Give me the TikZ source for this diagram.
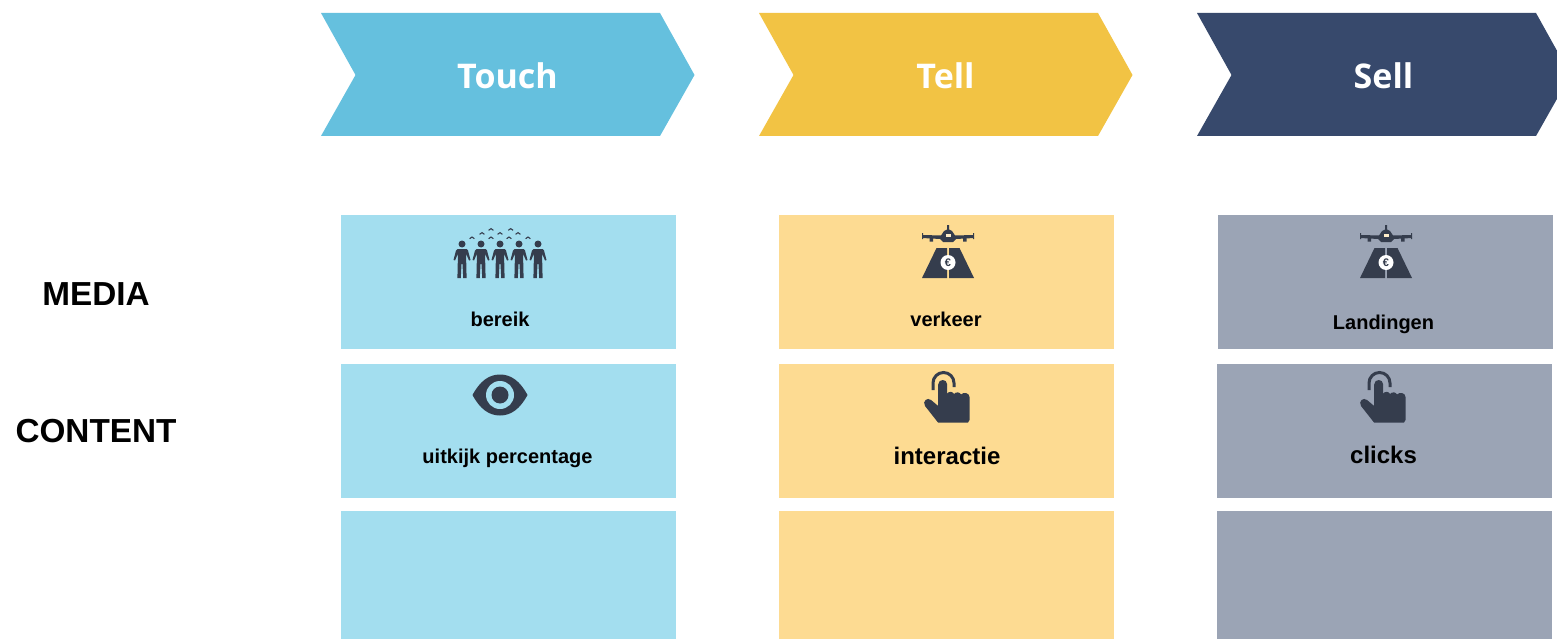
\documentclass[tikz,border=0pt]{standalone}
\usepackage{fontspec}
\setmainfont{Liberation Sans}
\newfontfamily\headfont{Open Sans}
\definecolor{cblue}{HTML}{65C0DE}
\definecolor{cyellow}{HTML}{F2C344}
\definecolor{cnavy}{HTML}{37496C}
\definecolor{lblue}{HTML}{A3DEEF}
\definecolor{lyellow}{HTML}{FDDB92}
\definecolor{lnavy}{HTML}{9BA4B5}
\definecolor{icon}{HTML}{353D4D}
\tikzset{
  panel/.style={inner sep=0pt,outer sep=0pt,anchor=north west},
  headtext/.style={font=\headfont\bfseries\fontsize{34}{38}\selectfont,text=white,inner sep=0pt},
  celltext/.style={font=\bfseries\fontsize{#1}{#1}\selectfont,text=black,inner sep=0pt},
  sidetext/.style={font=\bfseries\fontsize{33.3}{36}\selectfont,text=black,inner sep=0pt},
  person/.pic={
    \fill[icon] (0,-17) circle (3.5);
    \fill[icon] (-4.5,-12) -- (4.5,-12) -- (6,-10.5) -- (8.5,-1) -- (7,-.5) -- (4.2,-7) -- (4.2,0) -- (4.6,17) -- (1.2,17) -- (.5,3) -- (-.5,3) -- (-1.2,17) -- (-4.6,17) -- (-4.2,0) -- (-4.2,-7) -- (-7,-.5) -- (-8.5,-1) -- (-6,-10.5) -- cycle;
  },
  bird/.pic={\draw[icon,line width=1.1pt] (-2.4,1) .. controls (-1.5,-1.2) and (1.5,-1.2) .. (2.4,1);},
  crowdicon/.pic={
    \foreach \x in {-38,-19,0,19,38} \pic at (\x,0) {person};
    \foreach \x/\y in {-28/-23.3,-18/-27.7,-9/-31.7,-9/-23.3,0/-27.7,9/-23.3,10.7/-31.7,18/-27.7,28/-23.3} \pic at (\x,\y) {bird};
  },
  runwayicon/.pic={
    \fill[icon] (-25,-12) -- (-7,-11.5) -- (-4,-16) -- (-1,-17.5) -- (-1,-22) -- (1,-22) -- (1,-17.5) -- (4,-16) -- (7,-11.5) -- (25,-12) -- (26,-9) -- (8,-8) -- (5,-5) -- (-5,-5) -- (-8,-8) -- (-26,-9) -- cycle;
    \fill[icon] (-26,-14) rectangle (-25,-8) (25,-14) rectangle (26,-8);
    \fill[icon] (-18.5,-9) rectangle (-15,-5.5) (15,-9) rectangle (18.5,-5.5);
    \fill[lyellow!50!white] (-2.5,-13) rectangle (2.5,-10.5);
    \fill[icon] (-11.5,1) -- (-1,1) -- (-1,31) -- (-26,31) -- cycle;
    \fill[icon] (1,1) -- (11.5,1) -- (26,31) -- (1,31) -- cycle;
    \fill[white] (0,15.5) circle (7.5);
    \node[inner sep=0pt,text=icon,font=\bfseries\fontsize{11}{11}\selectfont] at (0,15.5) {€};
  },
  handicon/.pic={
    \draw[icon,line width=3pt] (-10,10) -- (-10,3) arc[start angle=180,end angle=360,radius=10.5] -- (11,7);
    \fill[icon] (-4.8,4.5) .. controls (-4.8,-1.5) and (4.2,-1.5) .. (4.2,4.5) -- (4.2,13.5) .. controls (6,11) and (10,11.5) .. (11,14)
      .. controls (13,11.5) and (17,12) .. (18,14.5) .. controls (20,12) and (26.5,12.5) .. (26.5,17) -- (26.5,40) -- (25,42.5) -- (-5,42.5)
      -- (-18,26) .. controls (-21,21) and (-15.5,17) .. (-12,20) -- (-4.8,26) -- cycle;
  },
  eyeicon/.pic={
    \fill[icon] (-27.5,0) .. controls (-20,-14) and (-11,-20.5) .. (0,-20.5) .. controls (11,-20.5) and (20,-14) .. (27.5,0) .. controls (20,14) and (11,20.5) .. (0,20.5) .. controls (-11,20.5) and (-20,14) .. (-27.5,0) -- cycle;
    \fill[lblue] (0,0) circle (14);
    \fill[icon] (0,0) circle (8.5);
  },
}
\begin{document}
\begin{tikzpicture}[x=1pt,y=-1pt]
\useasboundingbox (0,0) rectangle (1557,639);
\clip (0,0) rectangle (1557,639);
\fill[white] (0,0) rectangle (1557,639);
% chevrons
\fill[cblue] (321,13) -- (660,13) -- (694.5,75) -- (660,136) -- (321,136) -- (355.5,75) -- cycle;
\fill[cyellow] (759,13) -- (1098,13) -- (1132.5,75) -- (1098,136) -- (759,136) -- (793.5,75) -- cycle;
\fill[cnavy] (1197,13) -- (1536,13) -- (1570.5,75) -- (1536,136) -- (1197,136) -- (1231.5,75) -- cycle;
\node[headtext] (touch) at (507.5,75.5) {Touch};
\node[headtext] (tell) at (945.5,75.5) {Tell};
\node[headtext] (sell) at (1383.5,75.5) {Sell};
% panels
\node[panel,fill=lblue,minimum width=335pt,minimum height=134pt] (a1) at (341,215) {};
\node[panel,fill=lblue,minimum width=335pt,minimum height=134pt] (a2) at (341,363.5) {};
\node[panel,fill=lblue,minimum width=335pt,minimum height=130pt] (a3) at (341,510.5) {};
\node[panel,fill=lyellow,minimum width=335pt,minimum height=134pt] (b1) at (779,215) {};
\node[panel,fill=lyellow,minimum width=335pt,minimum height=134pt] (b2) at (779,363.5) {};
\node[panel,fill=lyellow,minimum width=335pt,minimum height=130pt] (b3) at (779,510.5) {};
\node[panel,fill=lnavy,minimum width=335pt,minimum height=134pt] (c1) at (1218,215) {};
\node[panel,fill=lnavy,minimum width=334.5pt,minimum height=134pt] (c2) at (1217,363.5) {};
\node[panel,fill=lnavy,minimum width=334.5pt,minimum height=130pt] (c3) at (1217,510.5) {};
% icons
\pic at (500,261) {crowdicon};
\pic at (948,247) {runwayicon};
\pic at (1386,247) {runwayicon};
\pic at (500,395) {eyeicon};
\pic at (943,380) {handicon};
\pic at (1379,380) {handicon};
% labels
\node[celltext=20] (t1) at (500,319) {bereik};
\node[celltext=20] (t2) at (946,319) {verkeer};
\node[celltext=20] (t3) at (1383.5,324.5) {Landingen};
\node[celltext=20] (t4) at (507.5,458.5) {uitkijk percentage};
\node[celltext=24] (t5) at (947,456) {interactie};
\node[celltext=24] (t6) at (1383.5,455) {clicks};
\node[sidetext] (media) at (96,294.5) {MEDIA};
\node[sidetext] (content) at (96,431) {CONTENT};
\end{tikzpicture}
\end{document}
